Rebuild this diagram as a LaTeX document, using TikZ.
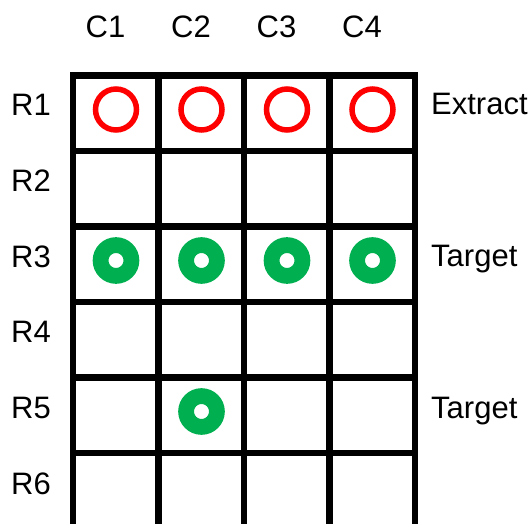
\documentclass[tikz,border=0pt]{standalone}
\usepackage{fontspec}
\setmainfont{Liberation Sans}
\usepackage{tikz}
\usetikzlibrary{positioning}
\definecolor{ringred}{RGB}{255,0,0}
\definecolor{dotgreen}{RGB}{0,176,80}

\begin{document}
\begin{tikzpicture}[x=1pt,y=-1pt,
	lbl/.style={inner sep=0pt,font=\fontsize{31}{31}\selectfont},
	extract/.style={circle,draw=ringred,line width=5.5pt,minimum size=41pt,inner sep=0pt},
	target/.style={circle,draw=dotgreen,fill=white,line width=15.8pt,minimum size=30.8pt,inner sep=0pt},
	gridline/.style={line width=6.5pt}]
	\useasboundingbox (0,0) rectangle (531,524);
	\clip (0,0) rectangle (531,524);
	% grid
	\draw[gridline] (73,75.5) rectangle (415,529);
	\foreach \x in {1,2,3}
		\draw[gridline] ({73+85.5*\x},75.5) -- ({73+85.5*\x},529);
	\foreach \y in {1,...,5}
		\draw[gridline] (73,{75.5+75.5*\y}) -- (415,{75.5+75.5*\y});
	% labels
	\foreach \c in {1,...,4}
		\node[lbl,anchor=base] (c\c) at ({105.5+85.5*(\c-1)},37.3) {C\c};
	\foreach \r in {1,...,6}
		\node[lbl,anchor=base west] (r\r) at (11,{116+75.6*(\r-1)}) {R\r};
	\node[lbl,anchor=base west] (ext)  at (431,115) {Extract};
	\node[lbl,anchor=base west] (tgt3) at (431,267) {Target};
	\node[lbl,anchor=base west] (tgt5) at (431,418) {Target};
	% wells
	\foreach \c in {1,...,4}
		\node[extract] (e\c) at ({116+85.5*(\c-1)},109.5) {};
	\foreach \c in {1,...,4}
		\node[target] (t\c) at ({116+85.5*(\c-1)},260.5) {};
	\node[target] (t5) at (201.5,411.5) {};
\end{tikzpicture}
\end{document}
